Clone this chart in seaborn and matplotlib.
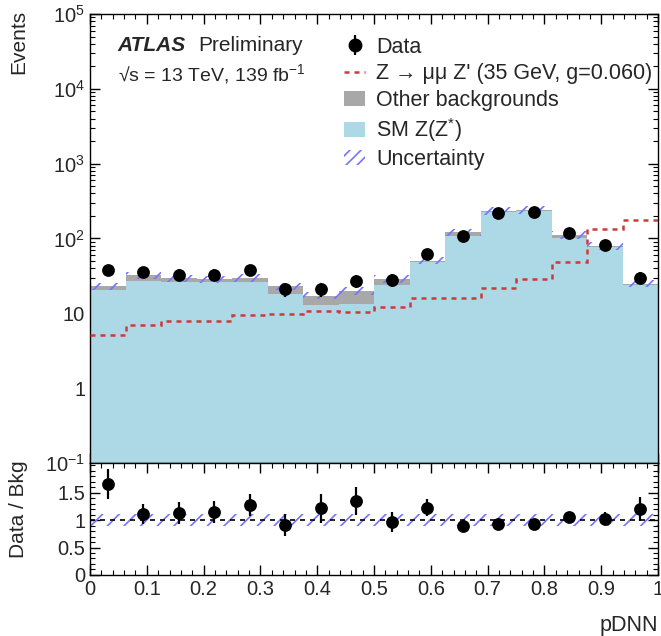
import numpy as np
import pandas as pd
import matplotlib
matplotlib.use("Agg")
import matplotlib.pyplot as plt
import seaborn as sns
from matplotlib.lines import Line2D
from matplotlib.patches import Patch
from matplotlib.legend_handler import HandlerTuple
from matplotlib.ticker import FixedLocator, FixedFormatter, MultipleLocator, LogLocator, NullFormatter

# ---------------- data ----------------
bin_edges = [0.0, 0.0625, 0.125, 0.1875, 0.25, 0.3125, 0.375, 0.4375, 0.5,
             0.5625, 0.625, 0.6875, 0.75, 0.8125, 0.875, 0.9375, 1.0]
data_counts = [38, 36, 33, 33, 38, 21, 21, 27, 28, 62, 109, 219, 226, 118, 82, 30]
sm_z = [20.4, 27.2, 26.3, 26.3, 26.3, 18.1, 13.0, 13.3, 24.0, 47.8, 108, 223, 230, 103, 77, 24]
other_bkg = [2.5, 5.1, 3.0, 2.5, 3.5, 5.0, 4.3, 6.7, 5.0, 2.9, 13, 12, 12, 9, 3, 1]
signal = [5.1, 7.0, 7.9, 7.9, 9.5, 9.7, 10.8, 10.3, 12.3, 15.8, 15.8, 21.5, 28.7, 48.8, 133.6, 176]
rel_unc = 0.11

x_tick_vals = [0, 0.1, 0.2, 0.3, 0.4, 0.5, 0.6, 0.7, 0.8, 0.9, 1.0]
x_tick_labels = ["0", "0.1", "0.2", "0.3", "0.4", "0.5", "0.6", "0.7", "0.8", "0.9", "1"]
y_tick_vals = [0.1, 1, 10, 100, 1000, 10000, 100000]
y_tick_labels = [r"$10^{-1}$", "1", "10", r"$10^{2}$", r"$10^{3}$", r"$10^{4}$", r"$10^{5}$"]
r_tick_vals = [0, 0.5, 1, 1.5]
r_tick_labels = ["0", "0.5", "1", "1.5"]

# ---------------- style ----------------
sns.set_theme(style="ticks")
plt.rcParams["font.family"] = ["Liberation Sans", "DejaVu Sans"]
plt.rcParams["mathtext.fontset"] = "custom"
plt.rcParams["mathtext.rm"] = "Liberation Sans"
plt.rcParams["mathtext.it"] = "Liberation Sans:italic"
plt.rcParams["mathtext.bf"] = "Liberation Sans:bold"
plt.rcParams["hatch.linewidth"] = 1.2

edges = np.array(bin_edges)
centers = 0.5 * (edges[:-1] + edges[1:])
d = np.array(data_counts, dtype=float)
sm = np.array(sm_z)
oth = np.array(other_bkg)
tot = sm + oth
sig = np.array(signal)
df = pd.DataFrame({"x": centers, "y": d})

LB = "#add8e6"
GREY = "#a8a8a8"
HATCH = "#7474ff"
RED = "#cc3a3a"

fig = plt.figure(figsize=(6.61, 6.36), dpi=100)
ax = fig.add_axes([0.1362, 0.272, 0.8593, 0.706])
rax = fig.add_axes([0.1362, 0.096, 0.8593, 0.176], sharex=ax)

# main panel
ax.stairs(sm, edges, baseline=1e-3, fill=True, color=LB, lw=0, zorder=1)
ax.stairs(tot, edges, baseline=sm, fill=True, color=GREY, lw=0, zorder=1)
ax.stairs(tot * (1 + rel_unc), edges, baseline=tot * (1 - rel_unc), fill=True,
          facecolor="none", edgecolor=HATCH, hatch="//", lw=0, zorder=2)
ax.stairs(sig, edges, baseline=None, color=RED, lw=1.8, linestyle=(0, (2, 2)), zorder=3)
ax.errorbar(centers, d, yerr=np.sqrt(d), fmt="none", ecolor="black", elinewidth=1.6, zorder=4)
sns.scatterplot(data=df, x="x", y="y", ax=ax, color="black", s=85, edgecolor="black",
                linewidth=0, zorder=5, legend=False)

ax.set_yscale("log")
ax.set_ylim(0.1, 1e5)
ax.set_xlim(0, 1)
ax.yaxis.set_major_locator(FixedLocator(y_tick_vals))
ax.yaxis.set_major_formatter(FixedFormatter(y_tick_labels))
ax.yaxis.set_minor_locator(LogLocator(base=10, subs=np.arange(2, 10), numticks=20))
ax.yaxis.set_minor_formatter(NullFormatter())
ax.xaxis.set_major_locator(FixedLocator(x_tick_vals))
ax.xaxis.set_minor_locator(MultipleLocator(0.02))
ax.tick_params(axis="x", labelbottom=False)
ax.set_xlabel("")
ax.set_ylabel("Events", fontsize=15, loc="top")
ax.yaxis.set_label_coords(-0.108, 1.01)

# text
ax.text(0.049, 0.929, "ATLAS", transform=ax.transAxes, fontsize=15, fontweight="bold",
        fontstyle="italic", va="center", ha="left")
ax.text(0.190, 0.929, "Preliminary", transform=ax.transAxes, fontsize=15, va="center", ha="left")
ax.text(0.049, 0.866, "\u221as = 13 TeV, 139 fb$^{-1}$", transform=ax.transAxes,
        fontsize=14, va="center", ha="left")

# legend
h_data = (Line2D([], [], color="black", marker="|", markersize=15, markeredgewidth=1.6, linestyle="none"),
          Line2D([], [], color="black", marker="o", markersize=9, linestyle="none"))
h_sig = Line2D([], [], color=RED, lw=1.8, linestyle=(0, (2, 2)))
h_oth = Patch(facecolor=GREY, edgecolor="none")
h_sm = Patch(facecolor=LB, edgecolor="none")
h_unc = Patch(facecolor="none", edgecolor=HATCH, hatch="///", lw=0)
ax.legend([h_data, h_sig, h_oth, h_sm, h_unc],
          ["Data", "Z \u2192 \u03bc\u03bc Z' (35 GeV, g=0.060)", "Other backgrounds", "SM Z(Z$^{*}$)", "Uncertainty"],
          handler_map={tuple: HandlerTuple(ndivide=1)},
          loc="upper left", bbox_to_anchor=(0.447, 0.949), frameon=False, fontsize=15.5,
          handlelength=1.0, handleheight=0.7, handletextpad=0.5, labelspacing=0.25,
          borderpad=0, borderaxespad=0)

# ratio panel
ratio = d / tot
rerr = np.sqrt(d) / tot
rax.stairs(np.full(len(tot), 1 + rel_unc), edges, baseline=np.full(len(tot), 1 - rel_unc), fill=True,
           facecolor="none", edgecolor=HATCH, hatch="//", lw=0, zorder=1)
rax.axhline(1.0, color="black", lw=1.2, linestyle=(0, (3, 3)), zorder=2)
rax.errorbar(centers, ratio, yerr=rerr, fmt="none", ecolor="black", elinewidth=1.6, zorder=3)
sns.scatterplot(x=centers, y=ratio, ax=rax, color="black", s=85, edgecolor="black",
                linewidth=0, zorder=4, legend=False)
rax.set_ylim(0, 2.04)
rax.yaxis.set_major_locator(FixedLocator(r_tick_vals))
rax.yaxis.set_major_formatter(FixedFormatter(r_tick_labels))
rax.yaxis.set_minor_locator(MultipleLocator(0.1))
rax.xaxis.set_major_locator(FixedLocator(x_tick_vals))
rax.xaxis.set_major_formatter(FixedFormatter(x_tick_labels))
rax.xaxis.set_minor_locator(MultipleLocator(0.02))
rax.set_xlim(0, 1)
rax.set_ylabel("Data / Bkg", fontsize=15)
rax.yaxis.set_label_coords(-0.11, 0.59)
rax.set_xlabel("pDNN", fontsize=15.5, loc="right")
rax.xaxis.set_label_coords(1.0, -0.36)

for a in (ax, rax):
    a.tick_params(which="both", direction="in", top=True, right=True, labelsize=14.5, color="black")
    a.tick_params(which="major", length=7, width=1)
    a.tick_params(which="minor", length=3.5, width=0.8)
    for s in a.spines.values():
        s.set_color("black")
        s.set_linewidth(1)

fig.savefig("out.png", dpi=100)
